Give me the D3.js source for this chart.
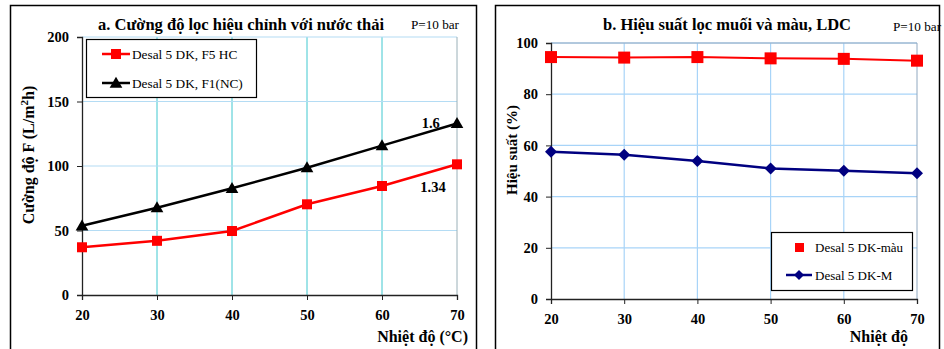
<!doctype html>
<html lang="vi">
<head>
<meta charset="UTF-8">
<script src="https://d3js.org/d3.v7.min.js"></script>
<style>
body { margin: 0; background: #fff; }
</style>
<title></title>
</head>
<body>
<svg id="chart" width="944" height="349"></svg>
<script>
// ---- data ----
var temps = [20, 30, 40, 50, 60, 70];

// panel a: corrected flux (L/m2h)
var fluxF5HC = [37, 42, 49.6, 70.3, 84.5, 101.3];
var fluxF1NC = [53.7, 67.7, 82.7, 98.7, 115.8, 133];
var fluxNotes = ["1.6", "1.34"];

// panel b: rejection (%)
var rejMau = [94.5, 94.3, 94.5, 94.0, 93.8, 93.1];
var rejM = [57.5, 56.3, 53.9, 51.0, 50.1, 49.1];

var xTicks = [20, 30, 40, 50, 60, 70];
var yTicksA = [0, 50, 100, 150, 200];
var yTicksB = [0, 20, 40, 60, 80, 100];

var FONT = "'Liberation Serif', 'Times New Roman', 'DejaVu Serif', serif";

var svg = d3.select("#chart").attr("font-family", FONT);

// panel frames (run past the bottom edge like the original)
svg.append("rect").attr("x", 10.5).attr("y", 5.5).attr("width", 466).attr("height", 360)
  .attr("fill", "none").attr("stroke", "#000").attr("stroke-width", 1.5);
svg.append("rect").attr("x", 495.5).attr("y", 5.5).attr("width", 444).attr("height", 360)
  .attr("fill", "none").attr("stroke", "#000").attr("stroke-width", 1.5);

function triangle(s) { return d3.symbol().type(d3.symbolTriangle).size(s)(); }

function styleAxis(g) {
  g.attr("font-family", FONT).attr("font-size", 14.5).attr("font-weight", "bold");
  g.select(".domain").attr("stroke", "#222").attr("stroke-width", 1.3);
  g.selectAll(".tick line").attr("stroke", "#222");
}

// ================= panel a =================
var xA = d3.scaleLinear().domain([20, 70]).range([82, 457]);
var yA = d3.scaleLinear().domain([0, 200]).range([295, 37]);
var gA = svg.append("g");

// grid
gA.selectAll(".vgrid").data(xTicks.slice(1, 5)).enter().append("line")
  .attr("x1", function(d) { return xA(d); }).attr("x2", function(d) { return xA(d); })
  .attr("y1", yA(0)).attr("y2", yA(200))
  .attr("stroke", "#40c8d0").attr("stroke-width", 1);
gA.selectAll(".hgrid").data(yTicksA.slice(1)).enter().append("line")
  .attr("x1", xA(20)).attr("x2", xA(70))
  .attr("y1", function(d) { return yA(d); }).attr("y2", function(d) { return yA(d); })
  .attr("stroke", "#b4dcf4").attr("stroke-width", 1.2);
gA.append("line").attr("x1", xA(70)).attr("x2", xA(70)).attr("y1", yA(0)).attr("y2", yA(200))
  .attr("stroke", "#9ab0b8").attr("stroke-width", 1);

// axes
gA.append("g").attr("transform", "translate(" + xA(20) + ",0)")
  .call(d3.axisLeft(yA).tickValues(yTicksA).tickSize(5).tickPadding(8))
  .call(styleAxis);
gA.append("g").attr("transform", "translate(0," + yA(0) + ")")
  .call(d3.axisBottom(xA).tickValues(xTicks).tickSize(5).tickPadding(10))
  .call(styleAxis);

var lineA = d3.line().x(function(d, i) { return xA(temps[i]); }).y(function(d) { return yA(d); });

gA.append("path").datum(fluxF5HC).attr("d", lineA)
  .attr("fill", "none").attr("stroke", "#ff0000").attr("stroke-width", 2.5);
gA.selectAll(".sqA").data(fluxF5HC).enter().append("rect")
  .attr("x", function(d, i) { return xA(temps[i]) - 5; })
  .attr("y", function(d) { return yA(d) - 5; })
  .attr("width", 10).attr("height", 10).attr("fill", "#ff0000");

gA.append("path").datum(fluxF1NC).attr("d", lineA)
  .attr("fill", "none").attr("stroke", "#000").attr("stroke-width", 2.5);
gA.selectAll(".triA").data(fluxF1NC).enter().append("path")
  .attr("d", triangle(70))
  .attr("transform", function(d, i) { return "translate(" + xA(temps[i]) + "," + (yA(d) + 1) + ")"; })
  .attr("fill", "#000");

// notes near the 70 °C points
gA.append("text").attr("x", xA(66.5)).attr("y", yA(fluxF1NC[5]) + 5)
  .attr("text-anchor", "middle").attr("font-weight", "bold").attr("font-size", 14.5)
  .text(fluxNotes[0]);
gA.append("text").attr("x", xA(66.8)).attr("y", yA(fluxF5HC[5]) + 28)
  .attr("text-anchor", "middle").attr("font-weight", "bold").attr("font-size", 14.5)
  .text(fluxNotes[1]);

// legend
gA.append("rect").attr("x", 86.5).attr("y", 39.5).attr("width", 170).attr("height", 58)
  .attr("fill", "#fff").attr("stroke", "#000").attr("stroke-width", 1.2);
gA.append("line").attr("x1", 102).attr("x2", 130).attr("y1", 54).attr("y2", 54)
  .attr("stroke", "#ff0000").attr("stroke-width", 2.5);
gA.append("rect").attr("x", 111).attr("y", 49).attr("width", 10).attr("height", 10).attr("fill", "#ff0000");
gA.append("text").attr("x", 132).attr("y", 59).attr("font-size", 13.3).text("Desal 5 DK, F5 HC");
gA.append("line").attr("x1", 102).attr("x2", 130).attr("y1", 83).attr("y2", 83)
  .attr("stroke", "#000").attr("stroke-width", 2.5);
gA.append("path").attr("d", triangle(70)).attr("transform", "translate(116,84)").attr("fill", "#000");
gA.append("text").attr("x", 132).attr("y", 88).attr("font-size", 13.3).text("Desal 5 DK, F1(NC)");

// titles
gA.append("text").attr("x", 241).attr("y", 30).attr("text-anchor", "middle")
  .attr("font-weight", "bold").attr("font-size", 16.5).text("a. Cường độ lọc hiệu chỉnh với nước thải");
gA.append("text").attr("x", 459).attr("y", 29).attr("text-anchor", "end")
  .attr("font-size", 13.2).text("P=10 bar");
gA.append("text").attr("transform", "translate(34,155) rotate(-90)").attr("text-anchor", "middle")
  .attr("font-weight", "bold").attr("font-size", 16)
  .call(function(t) {
    t.append("tspan").text("Cường độ F (L/m");
    t.append("tspan").attr("font-size", 11).attr("dy", -6).text("2");
    t.append("tspan").attr("dy", 6).text("h)");
  });
gA.append("text").attr("x", 468).attr("y", 342).attr("text-anchor", "end")
  .attr("font-weight", "bold").attr("font-size", 16).text("Nhiệt độ (°C)");

// ================= panel b =================
var xB = d3.scaleLinear().domain([20, 70]).range([551, 917]);
var yB = d3.scaleLinear().domain([0, 100]).range([299, 43]);
var gB = svg.append("g");

gB.selectAll(".vgrid").data(xTicks.slice(1, 5)).enter().append("line")
  .attr("x1", function(d) { return xB(d); }).attr("x2", function(d) { return xB(d); })
  .attr("y1", yB(0)).attr("y2", yB(100))
  .attr("stroke", "#a8d4f8").attr("stroke-width", 1.2);
gB.selectAll(".hgrid").data(yTicksB.slice(1)).enter().append("line")
  .attr("x1", xB(20)).attr("x2", xB(70))
  .attr("y1", function(d) { return yB(d); }).attr("y2", function(d) { return yB(d); })
  .attr("stroke", "#a8d4f8").attr("stroke-width", 1.2);
gB.append("line").attr("x1", xB(70)).attr("x2", xB(70)).attr("y1", yB(0)).attr("y2", yB(100))
  .attr("stroke", "#90a8c0").attr("stroke-width", 1);
gB.append("line").attr("x1", xB(20)).attr("x2", xB(70)).attr("y1", yB(100)).attr("y2", yB(100))
  .attr("stroke", "#90a8c0").attr("stroke-width", 1);

gB.append("g").attr("transform", "translate(" + xB(20) + ",0)")
  .call(d3.axisLeft(yB).tickValues(yTicksB).tickSize(5).tickPadding(8))
  .call(styleAxis);
gB.append("g").attr("transform", "translate(0," + yB(0) + ")")
  .call(d3.axisBottom(xB).tickValues(xTicks).tickSize(5).tickPadding(10))
  .call(styleAxis);

var lineB = d3.line().x(function(d, i) { return xB(temps[i]); }).y(function(d) { return yB(d); });

gB.append("path").datum(rejMau).attr("d", lineB)
  .attr("fill", "none").attr("stroke", "#ff0000").attr("stroke-width", 2);
gB.selectAll(".sqB").data(rejMau).enter().append("rect")
  .attr("x", function(d, i) { return xB(temps[i]) - 6; })
  .attr("y", function(d) { return yB(d) - 6; })
  .attr("width", 12).attr("height", 12).attr("fill", "#ff0000");

gB.append("path").datum(rejM).attr("d", lineB)
  .attr("fill", "none").attr("stroke", "#000080").attr("stroke-width", 2.5);
gB.selectAll(".diaB").data(rejM).enter().append("path")
  .attr("d", "M0,-6L6,0L0,6L-6,0Z")
  .attr("transform", function(d, i) { return "translate(" + xB(temps[i]) + "," + yB(d) + ")"; })
  .attr("fill", "#000080");

// legend
gB.append("rect").attr("x", 771.5).attr("y", 232.5).attr("width", 141).attr("height", 58)
  .attr("fill", "#fff").attr("stroke", "#000").attr("stroke-width", 1.2);
gB.append("rect").attr("x", 795).attr("y", 243).attr("width", 9).attr("height", 9).attr("fill", "#ff0000");
gB.append("text").attr("x", 815).attr("y", 252).attr("font-size", 13).text("Desal 5 DK-màu");
gB.append("line").attr("x1", 786).attr("x2", 812).attr("y1", 275).attr("y2", 275)
  .attr("stroke", "#000080").attr("stroke-width", 2.5);
gB.append("path").attr("d", "M0,-5L5,0L0,5L-5,0Z").attr("transform", "translate(799,275)").attr("fill", "#000080");
gB.append("text").attr("x", 815).attr("y", 280).attr("font-size", 13).text("Desal 5 DK-M");

gB.append("text").attr("x", 727).attr("y", 30).attr("text-anchor", "middle")
  .attr("font-weight", "bold").attr("font-size", 16.5).text("b. Hiệu suất lọc muối và màu, LDC");
gB.append("text").attr("x", 893).attr("y", 31)
  .attr("font-size", 13.2).text("P=10 bar");
gB.append("text").attr("transform", "translate(517,150) rotate(-90)").attr("text-anchor", "middle")
  .attr("font-weight", "bold").attr("font-size", 15).text("Hiệu suất (%)");
gB.append("text").attr("x", 908).attr("y", 342).attr("text-anchor", "end")
  .attr("font-weight", "bold").attr("font-size", 16).text("Nhiệt độ");
</script>
</body>
</html>
